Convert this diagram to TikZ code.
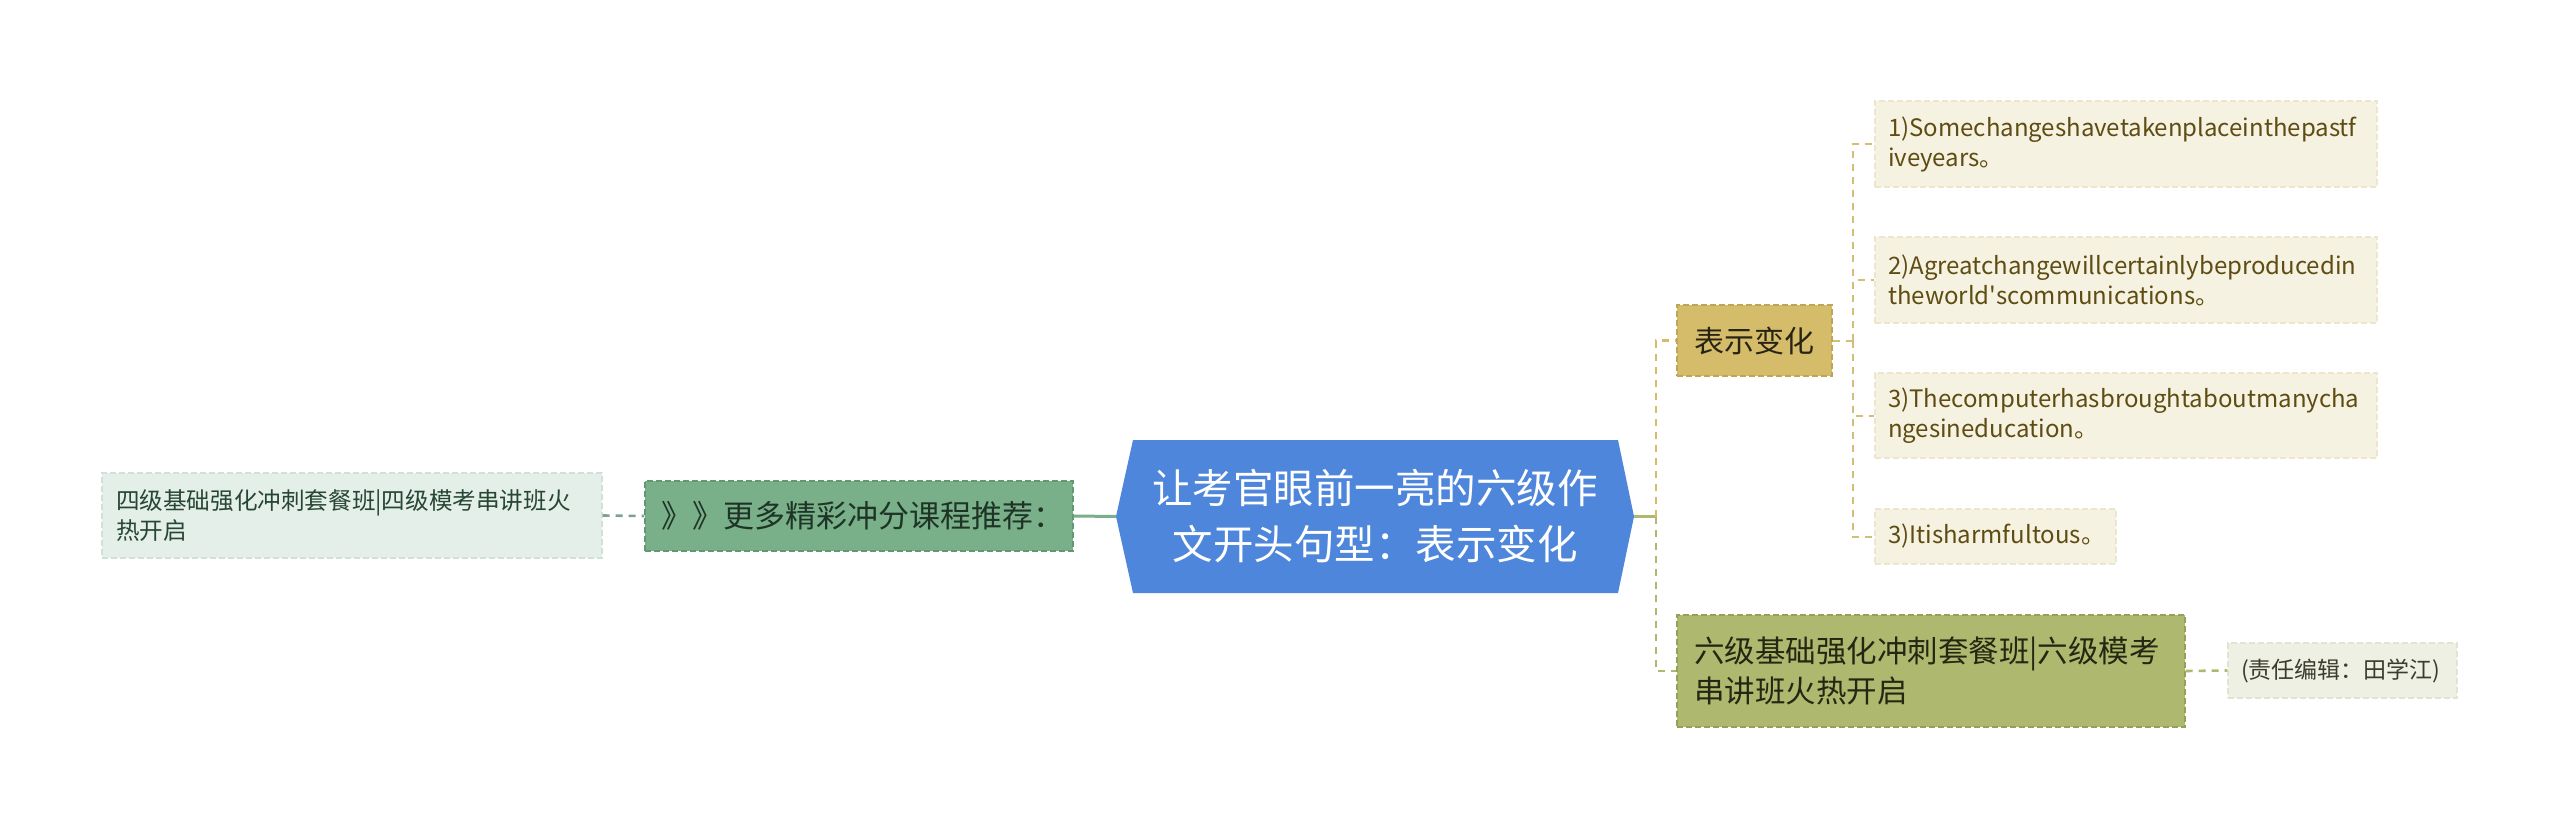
\documentclass[tikz,border=0pt]{standalone}
\usepackage{fontspec}
\setmainfont{Noto Sans CJK SC}
\definecolor{cblue}{RGB}{77,134,219}
\definecolor{gfill}{RGB}{122,176,137}
\definecolor{gdraw}{RGB}{98,152,114}
\definecolor{gtext}{RGB}{30,52,38}
\definecolor{lfill}{RGB}{228,239,233}
\definecolor{ldraw}{RGB}{210,224,216}
\definecolor{ltext}{RGB}{40,70,52}
\definecolor{lline}{RGB}{128,160,142}
\definecolor{bfill}{RGB}{212,188,106}
\definecolor{bdraw}{RGB}{190,166,86}
\definecolor{btext}{RGB}{40,36,20}
\definecolor{pfill}{RGB}{246,242,225}
\definecolor{pdraw}{RGB}{236,230,206}
\definecolor{ptext}{RGB}{94,76,18}
\definecolor{pline}{RGB}{210,190,120}
\definecolor{sfill}{RGB}{174,184,110}
\definecolor{sdraw}{RGB}{150,160,88}
\definecolor{stext}{RGB}{36,40,18}
\definecolor{efill}{RGB}{239,240,228}
\definecolor{edraw}{RGB}{226,228,210}
\definecolor{etext}{RGB}{60,60,44}
\tikzset{
  boxnode/.style={rectangle, inner ysep=0pt, line width=1.3pt, dash pattern=on 6pt off 3pt, align=left},
  conn/.style={line width=3pt},
  dconn/.style={line width=2.6pt, dash pattern=on 7pt off 6pt},
  leafconn/.style={line width=2pt, dash pattern=on 7pt off 6pt, draw=pline},
  leafbox/.style={boxnode, fill=pfill, draw=pdraw, text=ptext, inner xsep=13pt,
     font=\fontsize{24}{30}\selectfont},
}
\begin{document}
\begin{tikzpicture}[x=1pt,y=-1pt]
\useasboundingbox[fill=white] (0,0) rectangle (2560,829);

% central hexagon
\coordinate (Cl) at (1116,516.5);
\coordinate (Cr) at (1634,516.5);
\fill[cblue] (Cl) -- (1133,440) -- (1618,440) -- (Cr) -- (1618,593) -- (1133,593) -- cycle;
\node[text=white, align=center, font=\fontsize{40.5}{56}\selectfont, inner sep=0pt] (C) at (1375,516.5)
  {让考官眼前一亮的六级作\\文开头句型：表示变化};

% left branch
\node[boxnode, fill=gfill, draw=gdraw, text=gtext, inner xsep=16pt, text width=396pt,
  minimum height=70pt, font=\fontsize{31}{36}\selectfont] (G) at (859,516) {》》更多精彩冲分课程推荐：};
\node[boxnode, fill=lfill, draw=ldraw, text=ltext, inner xsep=14pt, text width=472pt,
  minimum height=85pt, font=\fontsize{23.6}{30}\selectfont] (L) at (352,515.5)
  {四级基础强化冲刺套餐班|四级模考串讲班火\\热开启};

% right level 1
\node[boxnode, fill=bfill, draw=bdraw, text=btext, inner xsep=0pt, align=center, text width=155pt,
  minimum height=71pt, font=\fontsize{30}{36}\selectfont] (B) at (1754.5,340.5) {表示变化};
\node[boxnode, fill=sfill, draw=sdraw, text=stext, inner xsep=17pt, text width=474pt,
  minimum height=112pt, font=\fontsize{30.5}{40}\selectfont] (S) at (1931,671)
  {六级基础强化冲刺套餐班|六级模考\\串讲班火热开启};
\node[boxnode, fill=efill, draw=edraw, text=etext, inner xsep=13pt, text width=203pt,
  minimum height=55pt, font=\fontsize{23}{30}\selectfont] (E) at (2342.5,670.5)
  {(责任编辑：田学江)};

% leaves
\node[leafbox, text width=476pt, minimum height=86pt] (P1) at (2126,144)
  {1)Somechangeshavetakenplaceinthepastf\\iveyears。};
\node[leafbox, text width=476pt, minimum height=86pt] (P2) at (2126,280)
  {2)Agreatchangewillcertainlybeproducedin\\theworld\textquotesingle scommunications。};
\node[leafbox, text width=476pt, minimum height=85pt] (P3) at (2126,415.5)
  {3)Thecomputerhasbroughtaboutmanycha\\ngesineducation。};
\node[leafbox, text width=215pt, minimum height=55pt] (P4) at (1995.5,536.5)
  {3)Itisharmfultous。};

% connectors
\draw[conn, draw=gfill] (G.east) -- (Cl);
\draw[dconn, draw=lline] (L.east) -- (G.west);
\coordinate (T) at (1656,516.5);
\draw[conn, draw=sfill] (Cr) -- (T);
\draw[dconn, draw=bfill] (T) |- (B.west);
\draw[dconn, draw=sfill] (T) |- (S.west);
\draw[dconn, draw=sfill] (S.east) -- (E.west);
\coordinate (T2) at (1853,340.5);
\draw[leafconn] (B.east) -- (T2);
\draw[leafconn] (T2) |- (P1.west);
\draw[leafconn] (T2) |- (P2.west);
\draw[leafconn] (T2) |- (P3.west);
\draw[leafconn] (T2) |- (P4.west);
\end{tikzpicture}
\end{document}
